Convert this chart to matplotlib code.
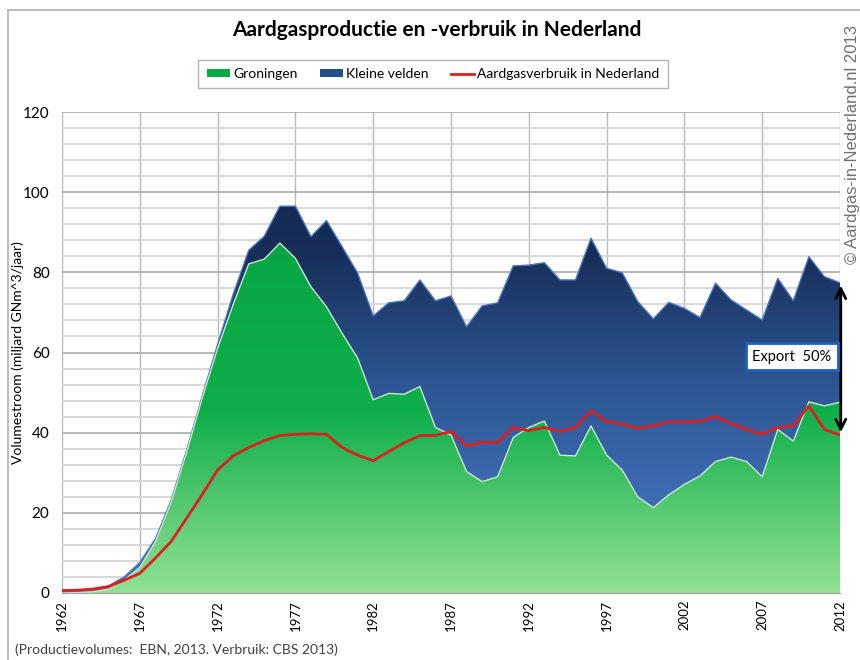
import numpy as np
import matplotlib
matplotlib.use("Agg")
import matplotlib.pyplot as plt
from matplotlib.colors import LinearSegmentedColormap
from matplotlib.patches import Patch
from matplotlib.lines import Line2D

plt.rcParams['font.family'] = ['Lato', 'DejaVu Sans']

years = list(range(1962, 2013))

groningen = [0.0, 0.1, 0.3, 1.0, 3.2, 6.4, 12.8, 22.5, 35.0, 48.5,
             61.0, 72.0, 82.1, 83.3, 87.3, 83.5, 76.4, 71.4, 64.8, 58.6,
             48.2, 49.8, 49.6, 51.5, 41.3, 39.4, 30.3, 27.8, 29.0, 38.8,
             41.3, 42.9, 34.4, 34.2, 41.7, 34.4, 30.7, 24.0, 21.3, 24.5,
             27.1, 29.2, 32.8, 33.9, 32.8, 29.0, 40.8, 37.9, 47.7, 46.7,
             47.6]

kleine_velden = [0.4, 0.3, 0.5, 0.8, 0.8, 1.2, 0.7, 0.5, 0.5, 0.5,
                 1.0, 2.5, 3.4, 5.7, 9.2, 13.0, 12.5, 21.5, 21.6, 21.2,
                 20.9, 22.6, 23.3, 26.6, 31.6, 34.7, 36.1, 43.8, 43.4, 42.8,
                 40.5, 39.5, 43.7, 43.9, 46.8, 46.6, 49.2, 48.7, 47.1, 48.0,
                 43.9, 39.5, 44.5, 39.2, 37.8, 39.1, 37.7, 35.0, 36.2, 32.2,
                 29.8]

verbruik = [0.6, 0.7, 1.0, 1.6, 3.2, 4.9, 8.7, 12.8, 18.6, 24.5,
            30.7, 34.2, 36.3, 38.0, 39.3, 39.6, 39.7, 39.6, 36.3, 34.4,
            33.0, 35.3, 37.5, 39.3, 39.3, 40.3, 36.7, 37.6, 37.5, 41.3,
            40.5, 41.3, 40.3, 41.3, 45.5, 42.7, 42.2, 41.1, 41.7, 42.7,
            42.7, 42.9, 44.0, 42.3, 40.8, 39.6, 41.3, 41.7, 46.7, 40.8,
            39.4]

xtick_labels = [str(y) for y in range(1962, 2013, 5)]
series_names = ["Groningen", "Kleine velden", "Aardgasverbruik in Nederland"]

x = np.array(years, dtype=float)
g = np.array(groningen)
total = g + np.array(kleine_velden)
c = np.array(verbruik)

fig = plt.figure(figsize=(8.6, 6.6), dpi=100)
ax = fig.add_axes([62/860, 1-593/660, (840-62)/860, (593-112)/660])

ax.set_xlim(1962, 2012)
ax.set_ylim(0, 120)

# gridlines
ax.set_axisbelow(True)
ax.set_yticks(np.arange(0, 121, 20))
ax.set_yticks(np.arange(0, 121, 4), minor=True)
ax.set_xticks([int(t) for t in xtick_labels])
ax.set_xticklabels(xtick_labels, rotation=90, fontsize=9.5)
ax.tick_params(axis='y', labelsize=11, length=0, pad=9)
ax.tick_params(axis='x', length=0, pad=5)
ax.tick_params(which='minor', length=0)
ax.grid(which='minor', axis='y', color='#d6d6d6', lw=1.3)
ax.grid(which='major', axis='y', color='#b0b0b0', lw=1.3)
ax.grid(which='major', axis='x', color='#b8b8b8', lw=1.0)
for s in ['top', 'right', 'left']:
    ax.spines[s].set_visible(False)
ax.spines['bottom'].set_color('#a0a0a0')

def gradient_fill(ax, lower, upper, stops, zorder):
    poly = ax.fill_between(x, lower, upper, facecolor='none', edgecolor='none', zorder=zorder)
    cmap = LinearSegmentedColormap.from_list('g', stops)
    grad = np.linspace(0, 1, 256).reshape(-1, 1)
    im = ax.imshow(grad, extent=[1962, 2012, 0, 120], origin='lower', aspect='auto',
                   cmap=cmap, zorder=zorder, interpolation='bilinear')
    im.set_clip_path(poly.get_paths()[0], transform=ax.transData)
    return im

# green (Groningen)
gradient_fill(ax, np.zeros_like(g), g,
              [(0.0, '#93e193'), (0.38, '#0fae4a'), (1.0, '#00a03c')], 1)
# blue (Kleine velden)
gradient_fill(ax, g, total,
              [(0.0, '#4170b8'), (0.2, '#3e6cb3'), (0.45, '#2b5590'), (0.7, '#182f5a'), (1.0, '#0e2245')], 1)

ax.plot(x, total, color='#4a72c0', lw=1.0, zorder=2)
ax.plot(x, g, color='#c8e6d0', lw=1.0, zorder=2)
ax.plot(x, c, color='#dd1f1f', lw=2.0, zorder=3)

ax.set_xlim(1962, 2012)
ax.set_ylim(0, 120)

ax.set_ylabel("Volumestroom (miljard GNm^3/jaar)", fontsize=10)
ax.yaxis.set_label_coords(-0.049, 0.5)

# export arrow
ax.annotate('', xy=(2012.05, total[-1]), xytext=(2012.05, c[-1]),
            arrowprops=dict(arrowstyle='<->', color='black', lw=2, mutation_scale=18),
            annotation_clip=False, zorder=5)
ax.text(2008.9, 59.0, "Export  50%", fontsize=10.5, ha='center', va='center', zorder=6,
        bbox=dict(boxstyle='square,pad=0.45', facecolor='white', edgecolor='#1f5fbf', lw=2))

# title & legend
fig.text(437/860, 1-30/660, "Aardgasproductie en -verbruik in Nederland",
         ha='center', va='center', fontsize=15, fontweight='bold')
handles = [Patch(facecolor='#0aa848', edgecolor='none'),
           Patch(facecolor='#234f8f', edgecolor='none'),
           Line2D([0], [0], color='#dd1f1f', lw=2)]
leg = fig.legend(handles, series_names, loc='center', bbox_to_anchor=(433/860, 1-74/660),
                 ncol=3, fontsize=10, frameon=True, fancybox=False, edgecolor='#a0a0a0',
                 handlelength=1.7, handleheight=0.45, handletextpad=0.2, columnspacing=1.6,
                 borderpad=0.6)
leg.get_frame().set_linewidth(1.0)

fig.text(853/860, 1-145/660, "© Aardgas-in-Nederland.nl 2013", rotation=90,
         ha='center', va='center', fontsize=12, color='#707070',
         family=['Liberation Sans', 'DejaVu Sans'])
fig.text(15/860, 1-650/660, "(Productievolumes:  EBN, 2013. Verbruik: CBS 2013)",
         ha='left', va='center', fontsize=10, color='#404040')

# chart border lines (top and left)
fig.add_artist(Line2D([8/860, 1.0], [1-10/660, 1-10/660], color='#b0b0b0', lw=1.2))
fig.add_artist(Line2D([8/860, 8/860], [0, 1-10/660], color='#b0b0b0', lw=1.2))

fig.savefig('out.png', dpi=100)
